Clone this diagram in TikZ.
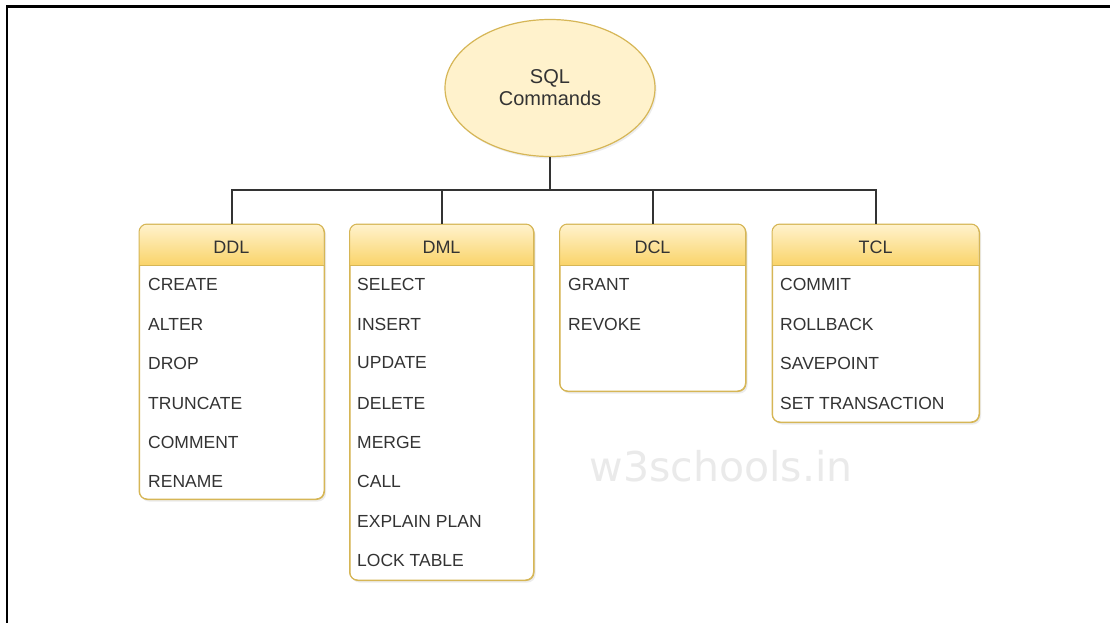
\documentclass[tikz,border=0pt]{standalone}
\usepackage{fontspec}
\setmainfont{Liberation Sans}
\newfontfamily\markfont{DejaVu Sans}
\usetikzlibrary{shapes.geometric,shadows}

\definecolor{txt}{HTML}{333333}
\definecolor{edge}{HTML}{D6B656}
\definecolor{lighty}{HTML}{FFF2CC}
\definecolor{darky}{HTML}{FAD46A}
\definecolor{wire}{HTML}{333333}
\definecolor{mark}{HTML}{EAEAEA}

\tikzset{
  x=1pt, y=-1pt,
  rootnode/.style={ellipse, draw=edge, fill=lighty, line width=1.2pt,
    minimum width=210pt, minimum height=137pt, align=center,
    text=txt, font=\fontsize{20}{24}\selectfont,
    drop shadow={opacity=0.15, shadow xshift=1.5pt, shadow yshift=-2pt}},
  boxbody/.style={draw=edge, line width=1pt, rounded corners=8pt, fill=white,
    anchor=north west, inner sep=0pt,
    drop shadow={opacity=0.15, shadow xshift=1.5pt, shadow yshift=-2pt}},
  headtext/.style={text=txt, font=\fontsize{18}{22}\selectfont},
  itemtext/.style={text=txt, anchor=west, inner sep=0pt, font=\fontsize{17.5}{21}\selectfont},
  conn/.style={draw=wire, line width=1.6pt},
  frameline/.style={draw=black, line width=2.5pt},
}

% group box: #1 name, #2 left x, #3 right x, #4 bottom y, #5 title
\newcommand{\groupbox}[5]{%
  \node[boxbody, minimum width=#3pt-#2pt, minimum height=#4pt-224pt] (#1) at (#2,224) {};
  \shade[top color=lighty, bottom color=darky]
    (#2+0.5,265) {[rounded corners=7.5pt] -- (#2+0.5,224.5) -- (#3-0.5,224.5)} -- (#3-0.5,265) -- cycle;
  \draw[edge, line width=1pt] (#2,265) -- (#3,265);
  \draw[edge, line width=1pt, rounded corners=8pt] (#2,224) rectangle (#3,#4);
  \node[headtext] (#1head) at ({(#2+#3)/2},247) {#5};
}

\begin{document}
\begin{tikzpicture}
  \useasboundingbox (0,0) rectangle (1110,623);
  \fill[white] (0,0) rectangle (1110,623);

  % page frame (top and left edges)
  \draw[frameline] (7,623) -- (7,6.5) -- (1110,6.5);

  % watermark
  \node[text=mark, font=\markfont\fontsize{41}{48}\selectfont] (wm) at (721,466) {w3schools.in};

  % root
  \node[rootnode] (sql) at (550,88) {SQL\\[-2pt]Commands};

  % groups
  \groupbox{ddl}{139}{324}{499}{DDL}
  \groupbox{dml}{349.5}{533.5}{580}{DML}
  \groupbox{dcl}{559.5}{745.5}{391}{DCL}
  \groupbox{tcl}{772}{979}{422}{TCL}

  % DDL items
  \node[itemtext] (ddl1) at (148,284) {CREATE};
  \node[itemtext] (ddl2) at (148,324) {ALTER};
  \node[itemtext] (ddl3) at (148,363) {DROP};
  \node[itemtext] (ddl4) at (148,403) {TRUNCATE};
  \node[itemtext] (ddl5) at (148,442) {COMMENT};
  \node[itemtext] (ddl6) at (148,481) {RENAME};

  % DML items
  \node[itemtext] (dml1) at (357,284) {SELECT};
  \node[itemtext] (dml2) at (357,324) {INSERT};
  \node[itemtext] (dml3) at (357,363) {UPDATE};
  \node[itemtext] (dml4) at (357,403) {DELETE};
  \node[itemtext] (dml5) at (357,442) {MERGE};
  \node[itemtext] (dml6) at (357,481) {CALL};
  \node[itemtext] (dml7) at (357,521) {EXPLAIN PLAN};
  \node[itemtext] (dml8) at (357,560) {LOCK TABLE};

  % DCL items
  \node[itemtext] (dcl1) at (568,284) {GRANT};
  \node[itemtext] (dcl2) at (568,324) {REVOKE};

  % TCL items
  \node[itemtext] (tcl1) at (780,284) {COMMIT};
  \node[itemtext] (tcl2) at (780,324) {ROLLBACK};
  \node[itemtext] (tcl3) at (780,363) {SAVEPOINT};
  \node[itemtext] (tcl4) at (780,403) {SET TRANSACTION};

  % connectors
  \coordinate (bus) at (550,190);
  \draw[conn] (sql.south) -- (bus);
  \draw[conn] (bus) -| (ddl.north);
  \draw[conn] (bus) -| (dml.north);
  \draw[conn] (bus) -| (dcl.north);
  \draw[conn] (bus) -| (tcl.north);
\end{tikzpicture}
\end{document}
